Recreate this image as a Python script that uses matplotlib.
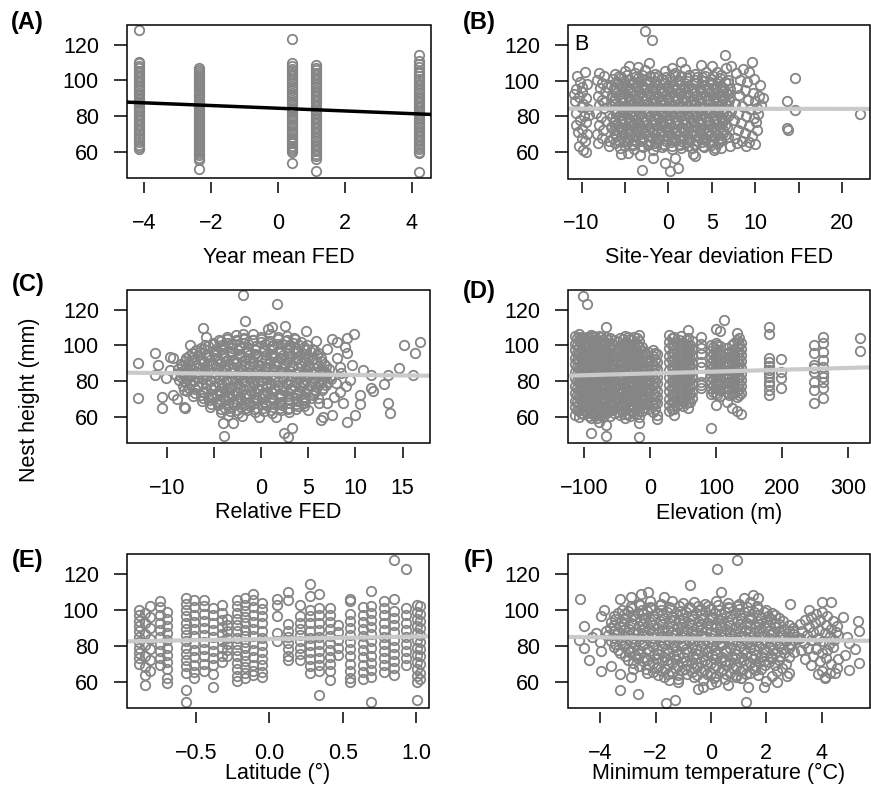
import matplotlib
matplotlib.use("Agg")
import matplotlib.pyplot as plt
from matplotlib.patches import Rectangle

plt.rcParams["font.family"] = ["Liberation Sans", "DejaVu Sans"]

# ---------------- data ----------------
# (A) nest height by year-mean FED: one column per year
year_fed_levels = [-4.15, -2.35, 0.43, 1.15, 4.22]
nest_by_year = [
    [128.2, 110.6, 109.8, 108.1, 106.9, 105.2, 104.0, 102.6, 101.3, 99.8, 98.7, 97.1, 95.9,
     94.6, 93.2, 92.0, 90.4, 89.3, 87.9, 86.5, 85.2, 84.0, 82.6, 81.1, 79.9, 78.4, 77.2,
     75.8, 74.5, 73.0, 71.8, 70.1, 68.4, 66.9, 65.2, 63.8, 62.4, 61.7],
    [106.8, 105.9, 104.7, 103.5, 102.4, 101.2, 100.1, 99.0, 97.8, 96.7, 95.5, 94.4, 93.2,
     92.1, 91.0, 89.8, 88.7, 87.5, 86.4, 85.3, 84.1, 83.0, 81.8, 80.7, 79.6, 78.4, 77.3,
     76.1, 75.0, 73.9, 72.7, 71.6, 70.4, 69.3, 68.2, 67.0, 65.9, 64.7, 63.6, 62.5, 61.3,
     60.2, 59.0, 58.1, 56.3, 55.2, 50.1],
    [123.2, 109.8, 108.2, 106.4, 105.1, 103.9, 102.3, 101.0, 99.6, 98.4, 97.0, 95.8, 94.5,
     93.1, 91.9, 90.6, 89.2, 88.0, 86.7, 85.3, 84.1, 82.8, 81.5, 80.2, 78.9, 77.6, 76.3,
     75.0, 73.7, 72.4, 71.1, 69.8, 68.5, 67.2, 65.9, 64.6, 63.3, 62.0, 60.8, 59.6, 53.4],
    [108.6, 107.2, 105.8, 104.3, 103.0, 101.5, 100.2, 98.8, 97.4, 96.1, 94.6, 93.3, 91.9,
     90.5, 89.2, 87.8, 86.4, 85.1, 83.6, 82.3, 80.9, 79.5, 78.2, 76.8, 75.4, 74.1, 72.6,
     71.3, 69.9, 68.5, 67.2, 65.8, 64.4, 63.1, 61.6, 60.3, 58.9, 57.4, 56.1, 49.2],
    [114.4, 111.2, 109.3, 107.5, 105.6, 104.2, 102.5, 101.1, 99.6, 98.2, 96.9, 95.4, 94.1,
     92.7, 91.3, 90.0, 88.6, 87.2, 85.9, 84.5, 83.1, 81.8, 80.4, 79.0, 77.7, 76.3, 74.9,
     73.6, 72.2, 70.8, 69.5, 68.1, 66.7, 65.4, 64.0, 62.6, 61.3, 59.9, 59.0, 48.3],
]

# (B) site-year deviation FED vs nest height
site_dev_pts = [
    # left columns
    (-10.5, 102.5), (-9.6, 104.8), (-10.2, 99.0), (-9.4, 98.0), (-10.7, 95.5), (-9.9, 93.5),
    (-10.3, 91.0), (-9.5, 90.0), (-10.8, 88.5), (-9.8, 87.0), (-10.1, 85.0), (-9.3, 84.0),
    (-10.6, 82.0), (-9.7, 80.0), (-10.2, 78.0), (-9.5, 76.5), (-10.7, 75.0), (-9.9, 73.0),
    (-10.4, 71.0), (-9.4, 70.0), (-10.0, 68.0), (-9.6, 66.0), (-10.3, 63.5), (-9.8, 61.0),
    (-9.5, 59.8), (-10.9, 92.5), (-10.0, 96.5), (-9.2, 80.5),
    (-8.0, 104.0), (-7.4, 102.5), (-8.2, 100.5), (-7.6, 98.5), (-7.9, 96.0), (-7.3, 93.5),
    (-8.1, 91.5), (-7.7, 89.0), (-8.0, 86.5), (-7.4, 84.5), (-8.3, 82.0), (-7.8, 79.5),
    (-7.2, 77.5), (-8.0, 75.0), (-7.5, 72.5), (-8.2, 70.0), (-7.7, 67.5), (-8.1, 65.2),
    (-7.4, 88.0), (-7.1, 96.5),
    # central cloud
    (-6.1, 103.8), (-5.0, 105.2), (-3.8, 104.1), (-2.7, 106.0), (-1.5, 103.6), (-0.4, 105.5),
    (0.7, 104.3), (1.9, 106.4), (3.1, 103.9), (4.3, 105.0), (5.6, 104.6), (6.6, 106.8),
    (-6.4, 100.9), (-5.5, 101.8), (-4.6, 100.4), (-3.5, 101.6), (-2.6, 100.2), (-1.7, 101.9),
    (-0.8, 100.7), (0.2, 101.3), (1.1, 100.1), (2.1, 101.7), (3.0, 100.5), (3.9, 101.9),
    (4.9, 100.8), (5.9, 101.5), (6.9, 100.3),
    (-6.6, 97.6), (-5.8, 98.4), (-4.9, 97.2), (-4.0, 98.8), (-3.1, 97.5), (-2.2, 98.6),
    (-1.3, 97.3), (-0.4, 98.9), (0.5, 97.4), (1.4, 98.3), (2.3, 97.1), (3.2, 98.7),
    (4.1, 97.6), (5.0, 98.2), (5.9, 97.0), (6.8, 98.5),
    (-6.2, 94.7), (-5.3, 95.6), (-4.4, 94.3), (-3.6, 95.8), (-2.7, 94.6), (-1.8, 95.4),
    (-0.9, 94.1), (0.0, 95.7), (0.9, 94.5), (1.8, 95.9), (2.7, 94.2), (3.6, 95.3),
    (4.5, 94.6), (5.4, 95.8), (6.3, 94.4), (7.1, 95.1),
    (-6.5, 91.8), (-5.6, 92.5), (-4.7, 91.2), (-3.9, 92.7), (-3.0, 91.5), (-2.1, 92.3),
    (-1.2, 91.0), (-0.3, 92.6), (0.6, 91.4), (1.5, 92.8), (2.4, 91.3), (3.3, 92.1),
    (4.2, 91.6), (5.1, 92.9), (6.0, 91.1), (6.9, 92.4),
    (-6.3, 88.6), (-5.4, 89.4), (-4.5, 88.2), (-3.7, 89.7), (-2.8, 88.5), (-1.9, 89.2),
    (-1.0, 88.0), (-0.1, 89.6), (0.8, 88.3), (1.7, 89.8), (2.6, 88.1), (3.5, 89.3),
    (4.4, 88.7), (5.3, 89.9), (6.2, 88.4), (7.0, 89.1),
    (-6.6, 85.9), (-5.7, 86.3), (-4.8, 85.1), (-4.0, 86.8), (-3.1, 85.4), (-2.2, 86.5),
    (-1.3, 85.2), (-0.4, 86.7), (0.5, 85.6), (1.4, 86.1), (2.3, 85.0), (3.2, 86.6),
    (4.1, 85.3), (5.0, 86.4), (5.9, 85.7), (6.8, 86.0),
    (-6.2, 82.8), (-5.3, 83.5), (-4.4, 82.3), (-3.6, 83.9), (-2.7, 82.6), (-1.8, 83.3),
    (-0.9, 82.1), (0.0, 83.7), (0.9, 82.4), (1.8, 83.8), (2.7, 82.2), (3.6, 83.1),
    (4.5, 82.9), (5.4, 83.6), (6.3, 82.5), (7.2, 83.0),
    (-6.5, 79.7), (-5.6, 80.4), (-4.7, 79.2), (-3.9, 80.8), (-3.0, 79.5), (-2.1, 80.2),
    (-1.2, 79.1), (-0.3, 80.6), (0.6, 79.4), (1.5, 80.9), (2.4, 79.3), (3.3, 80.1),
    (4.2, 79.8), (5.1, 80.5), (6.0, 79.0), (6.9, 80.3),
    (-6.3, 76.6), (-5.4, 77.3), (-4.5, 76.2), (-3.7, 77.8), (-2.8, 76.5), (-1.9, 77.1),
    (-1.0, 76.0), (-0.1, 77.6), (0.8, 76.3), (1.7, 77.9), (2.6, 76.1), (3.5, 77.2),
    (4.4, 76.8), (5.3, 77.5), (6.2, 76.4),
    (-6.6, 73.8), (-5.7, 74.4), (-4.8, 73.3), (-4.0, 74.9), (-3.1, 73.6), (-2.2, 74.2),
    (-1.3, 73.0), (-0.4, 74.7), (0.5, 73.5), (1.4, 74.1), (2.3, 73.2), (3.2, 74.6),
    (4.1, 73.4), (5.0, 74.3), (5.9, 73.7), (6.7, 74.0),
    (-6.2, 70.7), (-5.3, 71.4), (-4.4, 70.2), (-3.6, 71.8), (-2.7, 70.5), (-1.8, 71.2),
    (-0.9, 70.0), (0.0, 71.6), (0.9, 70.3), (1.8, 71.9), (2.7, 70.1), (3.6, 71.1),
    (4.5, 70.8), (5.4, 71.5), (6.3, 70.4),
    (-6.4, 67.8), (-5.5, 68.3), (-4.6, 67.2), (-3.8, 68.7), (-2.9, 67.5), (-2.0, 68.1),
    (-1.1, 67.0), (-0.2, 68.6), (0.7, 67.4), (1.6, 68.0), (2.5, 67.1), (3.4, 68.5),
    (4.3, 67.3), (5.2, 68.2), (6.1, 67.6), (6.9, 68.4),
    (-6.1, 64.9), (-5.1, 65.5), (-4.2, 64.3), (-3.3, 65.9), (-2.4, 64.6), (-1.5, 65.2),
    (-0.6, 64.1), (0.3, 65.7), (1.2, 64.4), (2.1, 65.3), (3.0, 64.2), (3.9, 65.6),
    (4.8, 64.8), (5.7, 65.1),
    (-5.6, 62.3), (-4.0, 61.5), (-2.9, 62.6), (-1.8, 61.2), (-0.7, 62.8), (0.4, 61.7),
    (1.5, 62.4), (2.7, 61.9), (4.1, 62.5), (5.3, 62.0),
    # central cloud, in-between rows
    (-5.7, 102.3), (-4.8, 102.9), (-3.9, 102.0), (-3.0, 103.1), (-2.1, 102.5), (-1.2, 102.8),
    (-0.3, 102.0), (0.6, 103.0), (1.5, 102.4), (2.4, 102.9), (3.3, 102.1), (4.2, 102.8),
    (5.1, 102.3), (6.0, 102.9),
    (-6.0, 99.1), (-5.1, 99.8), (-4.2, 98.9), (-3.3, 99.9), (-2.4, 99.0), (-1.5, 99.6),
    (-0.6, 98.8), (0.3, 99.7), (1.2, 99.2), (2.1, 99.8), (3.0, 98.9), (3.9, 99.5),
    (4.8, 99.0), (5.7, 99.7), (6.5, 99.2),
    (-6.3, 96.0), (-5.4, 96.7), (-4.5, 95.9), (-3.6, 96.8), (-2.7, 96.0), (-1.8, 96.5),
    (-0.9, 95.8), (0.0, 96.6), (0.9, 96.1), (1.8, 96.7), (2.7, 95.9), (3.6, 96.4),
    (4.5, 96.0), (5.4, 96.6), (6.3, 96.1),
    (-6.0, 93.0), (-5.1, 93.7), (-4.2, 92.9), (-3.3, 93.8), (-2.4, 93.0), (-1.5, 93.5),
    (-0.6, 92.8), (0.3, 93.6), (1.2, 93.1), (2.1, 93.7), (3.0, 92.9), (3.9, 93.4),
    (4.8, 93.0), (5.7, 93.6), (6.6, 93.2),
    (-6.2, 90.0), (-5.3, 90.6), (-4.4, 89.8), (-3.5, 90.7), (-2.6, 89.9), (-1.7, 90.4),
    (-0.8, 89.7), (0.1, 90.5), (1.0, 90.0), (1.9, 90.6), (2.8, 89.8), (3.7, 90.3),
    (4.6, 89.9), (5.5, 90.5), (6.4, 90.1),
    (-6.1, 87.0), (-5.2, 87.7), (-4.3, 86.9), (-3.4, 87.8), (-2.5, 87.0), (-1.6, 87.5),
    (-0.7, 86.8), (0.2, 87.6), (1.1, 87.1), (2.0, 87.7), (2.9, 86.9), (3.8, 87.4),
    (4.7, 87.0), (5.6, 87.6), (6.5, 87.2),
    (-6.3, 84.1), (-5.4, 84.7), (-4.5, 83.9), (-3.6, 84.8), (-2.7, 84.0), (-1.8, 84.5),
    (-0.9, 83.8), (0.0, 84.6), (0.9, 84.1), (1.8, 84.7), (2.7, 83.9), (3.6, 84.4),
    (4.5, 84.0), (5.4, 84.6), (6.3, 84.2),
    (-6.0, 81.0), (-5.1, 81.7), (-4.2, 80.9), (-3.3, 81.8), (-2.4, 81.0), (-1.5, 81.5),
    (-0.6, 80.8), (0.3, 81.6), (1.2, 81.1), (2.1, 81.7), (3.0, 80.9), (3.9, 81.4),
    (4.8, 81.0), (5.7, 81.6), (6.6, 81.2),
    (-6.2, 78.0), (-5.3, 78.6), (-4.4, 77.8), (-3.5, 78.7), (-2.6, 77.9), (-1.7, 78.4),
    (-0.8, 77.7), (0.1, 78.5), (1.0, 78.0), (1.9, 78.6), (2.8, 77.8), (3.7, 78.3),
    (4.6, 77.9), (5.5, 78.5), (6.4, 78.1),
    (-6.1, 75.0), (-5.2, 75.7), (-4.3, 74.9), (-3.4, 75.8), (-2.5, 75.0), (-1.6, 75.5),
    (-0.7, 74.8), (0.2, 75.6), (1.1, 75.1), (2.0, 75.7), (2.9, 74.9), (3.8, 75.4),
    (4.7, 75.0), (5.6, 75.6), (6.5, 75.2),
    (-6.3, 72.1), (-5.4, 72.7), (-4.5, 71.9), (-3.6, 72.8), (-2.7, 72.0), (-1.8, 72.5),
    (-0.9, 71.8), (0.0, 72.6), (0.9, 72.1), (1.8, 72.7), (2.7, 71.9), (3.6, 72.4),
    (4.5, 72.0), (5.4, 72.6), (6.3, 72.2),
    (-6.0, 69.1), (-5.1, 69.7), (-4.2, 68.9), (-3.3, 69.8), (-2.4, 69.0), (-1.5, 69.5),
    (-0.6, 68.8), (0.3, 69.6), (1.2, 69.1), (2.1, 69.7), (3.0, 68.9), (3.9, 69.4),
    (4.8, 69.0), (5.7, 69.6), (6.5, 69.2),
    (-5.7, 66.2), (-4.8, 66.8), (-3.9, 66.0), (-3.0, 66.9), (-2.1, 66.1), (-1.2, 66.6),
    (-0.3, 65.9), (0.6, 66.7), (1.5, 66.2), (2.4, 66.8), (3.3, 66.0), (4.2, 66.5),
    (5.1, 66.1), (6.0, 66.7),
    (-5.0, 63.4), (-4.1, 63.9), (-3.2, 63.1), (-2.3, 64.0), (-1.4, 63.2), (-0.5, 63.7),
    (0.4, 63.0), (1.3, 63.8), (2.2, 63.3), (3.1, 63.9), (4.0, 63.1), (4.9, 63.6),
    # right columns
    (7.8, 104.5), (8.6, 106.5), (9.3, 104.9), (9.6, 110.3), (8.2, 100.5), (9.0, 99.2),
    (9.9, 101.0), (10.5, 97.5), (7.9, 96.0), (8.8, 94.5), (9.7, 93.0), (10.4, 91.5),
    (10.9, 90.2), (8.1, 91.8), (9.2, 89.0), (10.0, 88.3), (10.7, 86.0), (7.7, 87.0),
    (8.5, 85.5), (9.4, 84.0), (10.2, 84.8), (8.0, 81.5), (8.9, 80.0), (9.8, 79.2),
    (10.3, 81.5), (7.6, 78.0), (8.4, 76.0), (9.3, 74.5), (10.1, 76.8), (8.0, 72.5),
    (8.8, 70.5), (9.6, 69.0), (10.2, 72.0), (7.7, 68.0), (8.5, 66.0), (9.3, 65.5),
    (10.0, 64.5), (8.9, 63.0), (7.9, 65.0),
    # scattered
    (-2.75, 127.8), (-1.9, 122.8), (14.6, 101.4), (13.7, 88.4), (14.6, 83.2), (13.7, 73.1),
    (13.8, 72.4), (22.05, 81.3), (-3.06, 49.8), (-0.45, 53.9), (0.13, 49.3), (1.1, 50.8),
    (0.7, 56.7), (-1.8, 56.7), (-4.7, 59.5), (2.8, 58.6), (3.0, 57.4), (1.5, 110.7),
    (6.5, 114.4), (5.0, 107.9), (-2.2, 109.8), (-3.5, 107.6), (0.4, 107.0), (-5.5, 58.5),
    (-3.3, 58.0), (5.2, 61.0), (-6.9, 63.0), (-6.8, 66.0), (3.7, 108.6), (-4.6, 108.2),
    (7.2, 108.0), (6.0, 62.0), (7.1, 63.5),
]

# (C) relative FED vs nest height
rel_fed_pts = [
    (-3.6, 104.6), (-2.7, 105.8), (-1.8, 104.3), (-0.9, 106.2), (0.0, 104.9), (0.9, 106.6),
    (1.8, 104.5), (2.7, 105.4), (3.5, 104.1),
    (-5.1, 101.6), (-4.3, 102.7), (-3.5, 101.2), (-2.6, 102.5), (-1.8, 101.4), (-0.9, 102.9),
    (0.0, 101.8), (0.8, 102.3), (1.7, 101.1), (2.5, 102.6), (3.4, 101.5), (4.2, 102.2),
    (-6.4, 98.8), (-5.6, 99.5), (-4.8, 98.3), (-3.9, 99.7), (-3.1, 98.6), (-2.2, 99.2),
    (-1.4, 98.1), (-0.5, 99.6), (0.3, 98.4), (1.2, 99.9), (2.0, 98.2), (2.9, 99.4),
    (3.7, 98.7), (4.6, 99.3), (5.4, 98.0),
    (-7.3, 95.7), (-6.5, 96.4), (-5.7, 95.2), (-4.8, 96.7), (-4.0, 95.5), (-3.1, 96.1),
    (-2.3, 95.0), (-1.4, 96.6), (-0.6, 95.3), (0.3, 96.8), (1.1, 95.1), (2.0, 96.3),
    (2.8, 95.8), (3.7, 96.5), (4.5, 95.4), (5.3, 96.2), (6.0, 95.6),
    (-8.0, 92.7), (-7.2, 93.4), (-6.4, 92.2), (-5.5, 93.6), (-4.7, 92.5), (-3.8, 93.1),
    (-3.0, 92.0), (-2.1, 93.5), (-1.3, 92.3), (-0.4, 93.8), (0.4, 92.1), (1.3, 93.3),
    (2.1, 92.8), (3.0, 93.5), (3.8, 92.4), (4.7, 93.2), (5.5, 92.6), (6.3, 93.0),
    (-8.5, 89.6), (-7.7, 90.3), (-6.9, 89.1), (-6.0, 90.6), (-5.2, 89.4), (-4.3, 90.1),
    (-3.5, 89.0), (-2.6, 90.5), (-1.8, 89.2), (-0.9, 90.7), (-0.1, 89.1), (0.8, 90.2),
    (1.6, 89.7), (2.5, 90.4), (3.3, 89.3), (4.2, 90.1), (5.0, 89.5), (5.9, 90.3), (6.7, 89.8),
    (-8.8, 86.6), (-8.0, 87.3), (-7.2, 86.1), (-6.3, 87.6), (-5.5, 86.4), (-4.6, 87.1),
    (-3.8, 86.0), (-2.9, 87.5), (-2.1, 86.2), (-1.2, 87.7), (-0.4, 86.1), (0.5, 87.2),
    (1.3, 86.7), (2.2, 87.4), (3.0, 86.3), (3.9, 87.1), (4.7, 86.5), (5.6, 87.3),
    (6.4, 86.8), (7.2, 87.0),
    (-9.0, 83.5), (-8.2, 84.2), (-7.4, 83.0), (-6.5, 84.5), (-5.7, 83.3), (-4.8, 84.0),
    (-4.0, 82.9), (-3.1, 84.4), (-2.3, 83.1), (-1.4, 84.6), (-0.6, 83.0), (0.3, 84.1),
    (1.1, 83.6), (2.0, 84.3), (2.8, 83.2), (3.7, 84.0), (4.5, 83.4), (5.4, 84.2),
    (6.2, 83.7), (7.0, 83.9),
    (-8.7, 80.6), (-7.9, 81.3), (-7.1, 80.1), (-6.2, 81.6), (-5.4, 80.4), (-4.5, 81.1),
    (-3.7, 80.0), (-2.8, 81.5), (-2.0, 80.2), (-1.1, 81.7), (-0.3, 80.1), (0.6, 81.2),
    (1.4, 80.7), (2.3, 81.4), (3.1, 80.3), (4.0, 81.1), (4.8, 80.5), (5.7, 81.3),
    (6.5, 80.8), (7.4, 81.0),
    (-8.3, 77.5), (-7.5, 78.2), (-6.7, 77.0), (-5.8, 78.5), (-5.0, 77.3), (-4.1, 78.0),
    (-3.3, 76.9), (-2.4, 78.4), (-1.6, 77.1), (-0.7, 78.6), (0.1, 77.0), (1.0, 78.1),
    (1.8, 77.6), (2.7, 78.3), (3.5, 77.2), (4.4, 78.0), (5.2, 77.4), (6.1, 78.2), (6.9, 77.7),
    (-7.9, 74.6), (-7.0, 75.3), (-6.2, 74.1), (-5.3, 75.6), (-4.5, 74.4), (-3.6, 75.1),
    (-2.8, 74.0), (-1.9, 75.5), (-1.1, 74.2), (-0.2, 75.7), (0.6, 74.1), (1.5, 75.2),
    (2.3, 74.7), (3.2, 75.4), (4.0, 74.3), (4.9, 75.1), (5.7, 74.5), (6.5, 75.0),
    (-7.2, 71.5), (-6.4, 72.2), (-5.6, 71.0), (-4.7, 72.5), (-3.9, 71.3), (-3.0, 72.0),
    (-2.2, 70.9), (-1.3, 72.4), (-0.5, 71.1), (0.4, 72.6), (1.2, 71.0), (2.1, 72.1),
    (2.9, 71.6), (3.8, 72.3), (4.6, 71.2), (5.5, 72.0),
    (-6.3, 68.6), (-5.5, 69.3), (-4.7, 68.1), (-3.8, 69.6), (-3.0, 68.4), (-2.1, 69.1),
    (-1.3, 68.0), (-0.4, 69.5), (0.4, 68.2), (1.3, 69.7), (2.1, 68.1), (3.0, 69.2),
    (3.8, 68.7), (4.7, 69.4),
    (-5.4, 65.6), (-4.6, 66.3), (-3.8, 65.1), (-2.9, 66.6), (-2.1, 65.4), (-1.2, 66.1),
    (-0.4, 65.0), (0.5, 66.5), (1.3, 65.2), (2.2, 66.7), (3.0, 65.1), (3.9, 66.2),
    (-4.2, 62.8), (-3.3, 63.4), (-2.4, 62.2), (-1.5, 63.6), (-0.6, 62.5), (0.3, 63.1),
    (1.2, 62.0), (2.1, 63.5), (3.0, 62.6),
    (-2.0, 60.3), (-0.2, 59.6), (1.6, 60.0), (-3.5, 60.8),
    # in-between rows
    (-4.5, 103.2), (-3.6, 103.7), (-2.7, 102.9), (-1.8, 103.8), (-0.9, 103.0), (0.0, 103.5),
    (0.9, 102.8), (1.8, 103.6), (2.7, 103.1), (3.6, 103.4),
    (-5.9, 100.2), (-5.0, 100.8), (-4.1, 100.0), (-3.2, 100.9), (-2.3, 100.1), (-1.4, 100.6),
    (-0.5, 99.9), (0.4, 100.7), (1.3, 100.2), (2.2, 100.8), (3.1, 100.0), (4.0, 100.5),
    (4.9, 100.1),
    (-6.9, 97.2), (-6.0, 97.8), (-5.1, 97.0), (-4.2, 97.9), (-3.3, 97.1), (-2.4, 97.6),
    (-1.5, 96.9), (-0.6, 97.7), (0.3, 97.2), (1.2, 97.8), (2.1, 97.0), (3.0, 97.5),
    (3.9, 97.1), (4.8, 97.7), (5.6, 97.3),
    (-7.6, 94.2), (-6.7, 94.8), (-5.8, 94.0), (-4.9, 94.9), (-4.0, 94.1), (-3.1, 94.6),
    (-2.2, 93.9), (-1.3, 94.7), (-0.4, 94.2), (0.5, 94.8), (1.4, 94.0), (2.3, 94.5),
    (3.2, 94.1), (4.1, 94.7), (5.0, 94.3), (5.9, 94.6),
    (-8.1, 91.2), (-7.2, 91.8), (-6.3, 91.0), (-5.4, 91.9), (-4.5, 91.1), (-3.6, 91.6),
    (-2.7, 90.9), (-1.8, 91.7), (-0.9, 91.2), (0.0, 91.8), (0.9, 91.0), (1.8, 91.5),
    (2.7, 91.1), (3.6, 91.7), (4.5, 91.3), (5.4, 91.6), (6.3, 91.2),
    (-8.4, 88.2), (-7.5, 88.8), (-6.6, 88.0), (-5.7, 88.9), (-4.8, 88.1), (-3.9, 88.6),
    (-3.0, 87.9), (-2.1, 88.7), (-1.2, 88.2), (-0.3, 88.8), (0.6, 88.0), (1.5, 88.5),
    (2.4, 88.1), (3.3, 88.7), (4.2, 88.3), (5.1, 88.6), (6.0, 88.2), (6.9, 88.5),
    (-8.6, 85.2), (-7.7, 85.8), (-6.8, 85.0), (-5.9, 85.9), (-5.0, 85.1), (-4.1, 85.6),
    (-3.2, 84.9), (-2.3, 85.7), (-1.4, 85.2), (-0.5, 85.8), (0.4, 85.0), (1.3, 85.5),
    (2.2, 85.1), (3.1, 85.7), (4.0, 85.3), (4.9, 85.6), (5.8, 85.2), (6.7, 85.5),
    (-8.5, 82.2), (-7.6, 82.8), (-6.7, 82.0), (-5.8, 82.9), (-4.9, 82.1), (-4.0, 82.6),
    (-3.1, 81.9), (-2.2, 82.7), (-1.3, 82.2), (-0.4, 82.8), (0.5, 82.0), (1.4, 82.5),
    (2.3, 82.1), (3.2, 82.7), (4.1, 82.3), (5.0, 82.6), (5.9, 82.2), (6.8, 82.5),
    (-8.1, 79.2), (-7.2, 79.8), (-6.3, 79.0), (-5.4, 79.9), (-4.5, 79.1), (-3.6, 79.6),
    (-2.7, 78.9), (-1.8, 79.7), (-0.9, 79.2), (0.0, 79.8), (0.9, 79.0), (1.8, 79.5),
    (2.7, 79.1), (3.6, 79.7), (4.5, 79.3), (5.4, 79.6), (6.3, 79.2), (7.0, 79.5),
    (-7.6, 76.2), (-6.7, 76.8), (-5.8, 76.0), (-4.9, 76.9), (-4.0, 76.1), (-3.1, 76.6),
    (-2.2, 75.9), (-1.3, 76.7), (-0.4, 76.2), (0.5, 76.8), (1.4, 76.0), (2.3, 76.5),
    (3.2, 76.1), (4.1, 76.7), (5.0, 76.3), (5.9, 76.6), (6.6, 76.2),
    (-7.0, 73.2), (-6.1, 73.8), (-5.2, 73.0), (-4.3, 73.9), (-3.4, 73.1), (-2.5, 73.6),
    (-1.6, 72.9), (-0.7, 73.7), (0.2, 73.2), (1.1, 73.8), (2.0, 73.0), (2.9, 73.5),
    (3.8, 73.1), (4.7, 73.7), (5.6, 73.3),
    (-6.2, 70.2), (-5.3, 70.8), (-4.4, 70.0), (-3.5, 70.9), (-2.6, 70.1), (-1.7, 70.6),
    (-0.8, 69.9), (0.1, 70.7), (1.0, 70.2), (1.9, 70.8), (2.8, 70.0), (3.7, 70.5),
    (4.6, 70.1), (5.3, 70.6),
    (-5.3, 67.2), (-4.4, 67.8), (-3.5, 67.0), (-2.6, 67.9), (-1.7, 67.1), (-0.8, 67.6),
    (0.1, 66.9), (1.0, 67.7), (1.9, 67.2), (2.8, 67.8), (3.7, 67.0), (4.5, 67.5),
    (-4.3, 64.2), (-3.4, 64.8), (-2.5, 64.0), (-1.6, 64.9), (-0.7, 64.1), (0.2, 64.6),
    (1.1, 63.9), (2.0, 64.7), (2.9, 64.2), (3.7, 64.5),
    # scattered
    (-1.94, 128.4), (1.66, 123.3), (-1.7, 114.0), (-6.2, 109.6), (1.13, 110.6), (2.5, 111.0),
    (4.77, 108.3), (0.78, 109.0), (-1.87, 106.4),
    (-13.0, 90.3), (-13.0, 70.3), (-11.2, 95.6), (-10.9, 89.0), (-11.2, 83.4), (-10.5, 71.2),
    (-10.5, 64.6), (-9.6, 93.7), (-10.1, 81.5), (-9.3, 72.1), (-8.2, 65.6), (-9.3, 92.8),
    (-8.2, 75.0), (-8.06, 64.6), (-9.7, 86.2), (-8.9, 70.0),
    (-4.0, 56.2), (-3.0, 56.2), (-3.9, 49.3), (2.4, 50.6), (2.9, 48.7), (3.3, 53.4),
    (9.8, 106.4), (9.1, 104.0), (7.5, 103.4), (8.0, 102.1), (8.9, 99.3), (9.1, 95.6),
    (7.0, 97.8), (10.8, 86.2), (11.6, 83.4), (13.5, 83.4), (14.6, 87.1), (16.1, 83.4),
    (15.1, 100.3), (16.8, 102.1), (16.3, 95.6), (13.0, 78.3), (11.9, 74.6), (11.6, 75.9),
    (10.5, 72.1), (10.5, 67.1), (13.5, 67.4), (13.7, 62.2), (10.0, 60.9), (9.1, 57.1),
    (7.5, 60.9), (6.6, 59.6), (6.3, 58.1), (5.0, 63.7), (8.4, 74.0), (9.4, 80.6),
    (9.6, 89.0), (8.4, 88.1), (7.3, 82.4), (7.7, 71.2), (8.7, 67.4), (7.0, 67.4),
    (6.1, 67.4), (8.0, 93.0), (7.9, 79.0), (9.0, 77.0), (8.5, 84.5), (6.0, 70.5),
    (4.5, 66.0), (5.8, 102.5), (-5.8, 104.5), (-7.5, 100.0),
]

# (D) nest height by elevation (m)
elev_levels = [-114, -111, -108, -105, -102, -99, -96, -93, -90, -87, -84, -81, -78, -75,
               -72, -69, -66, -63, -60, -57, -55,
               -48, -45, -41, -38, -34, -31, -27, -24, -20, -17, -13, -10, -6, -3, 4, 8, 11,
               29, 33, 36, 40, 43, 47, 50, 54, 57, 61, 64, 77,
               92, 95, 99, 102, 106, 112, 117, 120, 124, 127, 131, 134, 138,
               180, 198, 248, 261, 318]
nest_by_elev = [
    [105.5, 101.0, 97.5, 93.0, 89.5, 85.0, 81.5, 77.0, 73.5, 69.0, 65.5, 61.0],
    [104.0, 100.0, 96.0, 92.0, 88.0, 84.0, 80.0, 76.0, 72.0, 68.0, 64.0],
    [106.5, 103.0, 99.0, 95.5, 91.0, 87.5, 83.0, 79.5, 75.0, 71.5, 67.0, 63.5, 60.0],
    [105.0, 101.5, 97.5, 93.5, 89.5, 85.5, 81.5, 77.5, 73.5, 69.5, 65.5, 62.0],
    [127.8, 104.0, 100.5, 96.0, 92.5, 88.0, 84.5, 80.0, 76.5, 72.0, 68.5, 64.0, 61.5],
    [103.5, 99.5, 95.0, 91.0, 87.0, 83.0, 79.0, 75.0, 71.0, 67.0, 63.0],
    [123.3, 105.0, 101.5, 97.0, 93.5, 89.0, 85.5, 81.0, 77.5, 73.0, 69.5, 65.0, 62.0],
    [104.0, 100.0, 96.0, 92.0, 88.0, 84.0, 80.0, 76.0, 72.0, 68.0, 64.0, 60.5],
    [106.0, 102.5, 98.0, 94.5, 90.0, 86.5, 82.0, 78.5, 74.0, 70.5, 66.0, 62.5, 59.0, 50.6],
    [105.5, 101.0, 97.5, 93.0, 89.5, 85.0, 81.5, 77.0, 73.5, 69.0, 65.5, 61.5],
    [104.5, 100.0, 96.5, 92.0, 88.5, 84.0, 80.5, 76.0, 72.5, 68.0, 64.5, 60.5],
    [103.0, 99.0, 95.0, 91.0, 87.0, 83.0, 79.0, 75.0, 71.0, 67.0, 63.0, 59.5],
    [105.5, 101.5, 97.0, 93.5, 89.0, 85.5, 81.0, 77.5, 73.0, 69.5, 65.0, 61.5, 57.1],
    [104.5, 100.5, 96.5, 92.5, 88.5, 84.5, 80.5, 76.5, 72.5, 68.5, 64.5, 61.0],
    [103.0, 99.5, 95.0, 91.5, 87.0, 83.5, 79.0, 75.5, 71.0, 67.5, 63.0, 60.0],
    [102.0, 98.0, 94.0, 90.0, 86.0, 82.0, 78.0, 74.0, 70.0, 66.0, 62.5],
    [110.5, 105.0, 101.0, 97.5, 93.0, 89.5, 85.0, 81.5, 77.0, 73.5, 69.0, 65.5, 62.0, 55.3, 49.1],
    [103.0, 99.0, 95.0, 91.0, 87.0, 83.0, 79.0, 75.0, 71.0, 67.0, 63.5],
    [104.0, 100.5, 96.0, 92.5, 88.0, 84.5, 80.0, 76.5, 72.0, 68.5, 64.0, 60.5],
    [101.0, 96.0, 92.0, 87.5, 84.0, 80.0, 76.0, 72.0, 68.0, 64.0],
    [103.0, 98.0, 94.0, 89.0, 86.0, 82.0, 78.0, 74.0, 70.0, 66.0, 62.0],
    [102.0, 98.0, 94.0, 90.0, 86.0, 82.0, 78.0, 74.0, 70.0, 66.0, 62.5],
    [104.0, 100.0, 96.5, 92.0, 88.5, 84.0, 80.5, 76.0, 72.5, 68.0, 64.5, 61.0],
    [103.5, 99.5, 95.0, 91.0, 87.0, 83.0, 79.0, 75.0, 71.0, 67.0, 63.0],
    [105.5, 101.5, 97.0, 93.5, 89.0, 85.5, 81.0, 77.5, 73.0, 69.5, 65.0, 61.5, 59.5],
    [105.0, 101.0, 97.0, 93.0, 89.0, 85.0, 81.0, 77.0, 73.0, 69.0, 65.0, 61.5],
    [103.5, 99.0, 95.5, 91.0, 87.5, 83.0, 79.5, 75.0, 71.5, 67.0, 63.5, 60.5],
    [103.0, 99.0, 95.0, 91.0, 87.0, 83.0, 79.0, 75.0, 71.0, 67.0, 63.5],
    [105.0, 101.0, 97.5, 93.0, 89.5, 85.0, 81.5, 77.0, 73.5, 69.0, 65.5, 62.0],
    [104.0, 100.5, 96.5, 92.5, 88.5, 84.5, 80.5, 76.5, 72.5, 68.5, 64.5, 61.5],
    [106.0, 102.5, 99.0, 95.0, 91.0, 87.0, 83.0, 79.0, 75.0, 71.0, 67.0, 63.0, 60.0, 56.2, 48.7],
    [99.0, 95.0, 91.0, 87.0, 83.0, 79.0, 75.0, 71.0, 67.0, 63.0],
    [97.0, 93.5, 89.0, 85.5, 81.0, 77.5, 73.0, 69.5, 65.0],
    [95.0, 91.0, 87.0, 83.0, 79.0, 75.0, 71.0, 67.0],
    [96.5, 92.0, 88.5, 84.0, 80.5, 76.0, 72.5, 68.0, 64.5],
    [97.5, 94.0, 89.5, 86.0, 81.5, 78.0, 73.5, 70.0, 66.5, 62.8],
    [96.0, 92.0, 88.0, 84.0, 80.0, 76.0, 72.0, 68.5, 64.5],
    [95.0, 90.5, 87.0, 82.5, 79.0, 74.5, 71.0, 67.5, 60.9, 58.8],
    [106.0, 102.0, 98.5, 94.0, 90.5, 86.0, 82.5, 78.0, 74.5, 70.0, 66.5, 63.0],
    [104.0, 100.0, 96.0, 92.0, 88.0, 84.0, 80.0, 76.0, 72.0, 68.0, 64.5],
    [104.5, 100.5, 96.0, 92.5, 88.0, 84.5, 80.0, 76.5, 72.0, 68.5, 64.5, 60.9],
    [102.0, 98.0, 94.0, 90.0, 86.0, 82.0, 78.0, 74.0, 70.0, 66.5],
    [103.0, 99.0, 95.0, 91.0, 87.0, 83.0, 79.0, 75.0, 71.0, 67.0],
    [105.5, 101.0, 97.0, 93.0, 89.0, 85.0, 81.0, 77.0, 73.0, 69.0],
    [101.5, 97.5, 93.5, 89.5, 85.5, 81.5, 77.5, 73.5, 69.5, 66.0],
    [103.0, 99.5, 95.5, 91.5, 87.5, 83.5, 79.5, 75.5, 71.5, 67.5],
    [108.7, 104.0, 100.0, 96.0, 92.0, 88.0, 84.0, 80.0, 76.0, 72.0, 68.4, 64.6],
    [100.5, 96.5, 92.5, 88.5, 84.5, 80.5, 76.5, 72.5, 68.5],
    [102.5, 98.0, 94.5, 90.0, 86.5, 82.0, 78.5, 74.0, 70.5],
    [105.0, 101.0, 98.5, 95.0, 90.9, 88.0, 83.5, 79.5, 77.7, 75.9],
    [100.5, 97.0, 93.5, 90.0, 86.5, 83.0, 79.5, 76.0, 72.5, 53.4],
    [99.0, 95.0, 91.5, 88.0, 84.5, 81.0, 77.5, 74.0],
    [109.1, 101.5, 98.0, 94.5, 91.0, 87.5, 84.0, 80.5, 77.0, 73.5, 66.5],
    [100.0, 96.5, 93.0, 89.5, 86.0, 82.5, 79.0, 75.5, 72.0],
    [108.3, 99.5, 96.0, 92.5, 89.0, 85.5, 82.0, 78.5, 75.0, 71.5],
    [114.3],
    [98.5, 95.0, 91.5, 88.0, 84.5, 81.0, 77.5, 74.0, 68.4],
    [96.5, 93.0, 89.5, 86.0, 82.5, 79.0, 75.5, 72.0],
    [100.5, 97.0, 93.5, 90.0, 86.5, 83.0, 79.5, 76.0, 72.5, 65.0],
    [101.5, 98.0, 94.5, 91.0, 87.5, 84.0, 80.5, 77.0, 73.5],
    [106.8, 103.0, 99.0, 95.5, 92.0, 88.5, 85.0, 81.5, 78.0, 74.5, 71.0, 63.0],
    [104.0, 100.0, 96.5, 93.0, 89.5, 86.0, 82.5, 79.0, 75.5, 72.0],
    [101.5, 98.0, 94.5, 91.0, 87.5, 84.0, 80.5, 77.0, 73.5, 61.5],
    [110.6, 106.4, 92.8, 90.9, 88.2, 86.2, 84.3, 82.4, 79.6, 77.7, 75.0, 72.1],
    [92.2, 85.3, 81.9, 75.9],
    [100.3, 95.6, 89.0, 87.1, 85.3, 79.6, 74.9, 67.4],
    [105.0, 101.2, 96.5, 91.8, 88.1, 84.3, 82.4, 79.6, 75.9, 70.3],
    [104.0, 97.1],
]

# (E) nest height by latitude (deg, centred)
lat_levels = [-0.89, -0.85, -0.81, -0.745, -0.70, -0.565, -0.51, -0.445, -0.385, -0.325,
              -0.29, -0.22, -0.165, -0.108, -0.05, 0.05, 0.13, 0.21, 0.28, 0.335, 0.415,
              0.47, 0.55, 0.64, 0.69, 0.78, 0.85, 0.93, 1.005, 1.03]
nest_by_lat = [
    [100.0, 97.0, 94.0, 91.0, 88.0, 85.0, 82.0, 79.0, 76.0, 73.0, 70.0],
    [98.5, 92.5, 86.5, 80.5, 74.5, 68.0, 63.7, 58.1],
    [102.1, 96.0, 90.0, 84.0, 78.0, 72.0, 66.0],
    [104.9, 101.5, 97.0, 93.0, 89.0, 85.0, 81.0, 77.0, 73.0, 69.5],
    [99.0, 95.0, 91.0, 87.0, 83.0, 79.0, 75.0, 71.0, 67.0, 62.0, 59.0],
    [106.8, 103.5, 100.0, 96.5, 93.0, 89.5, 86.0, 82.5, 79.0, 75.5, 72.0, 68.5, 65.0, 55.3, 48.3],
    [105.5, 101.5, 97.5, 93.5, 89.5, 85.5, 81.5, 77.5, 73.5, 69.5, 65.5, 62.0],
    [105.8, 102.0, 98.0, 94.0, 90.0, 86.0, 82.0, 78.0, 74.0, 70.0, 66.0],
    [101.0, 97.0, 93.0, 89.0, 85.0, 81.0, 77.0, 73.0, 69.0, 64.0, 57.1],
    [103.0, 98.5, 94.5, 90.5, 86.5, 82.5, 78.5, 74.5, 71.0],
    [95.0, 91.5, 88.0, 84.5, 81.0, 77.5, 74.0],
    [105.5, 102.0, 98.5, 95.0, 91.5, 88.0, 84.5, 81.0, 77.5, 74.0, 70.5, 67.0, 63.0, 60.5],
    [106.8, 103.0, 99.5, 96.0, 92.5, 89.0, 85.5, 82.0, 78.5, 75.0, 71.5, 68.0, 64.5, 62.0],
    [109.0, 105.5, 101.5, 97.5, 93.5, 89.5, 85.5, 81.5, 77.5, 73.5, 69.5, 66.0, 63.5],
    [104.0, 100.5, 96.5, 92.5, 88.5, 84.5, 80.5, 76.5, 72.5, 69.0, 65.5, 62.5],
    [105.9, 103.0, 96.5, 87.1, 82.4],
    [110.2, 105.8, 92.0, 88.5, 85.0, 81.5, 78.0, 74.5, 72.0],
    [103.1, 96.5, 93.0, 89.5, 86.0, 82.5, 79.0, 75.5, 72.0],
    [114.3, 107.8, 100.3, 96.5, 92.5, 88.5, 84.5, 80.5, 76.5, 72.5, 68.5, 64.5],
    [108.7, 101.0, 97.0, 93.0, 89.0, 85.0, 81.0, 77.0, 73.0, 69.5, 66.0, 52.4],
    [101.2, 97.5, 93.5, 89.5, 85.5, 81.5, 77.5, 73.5, 70.0, 66.0, 61.0],
    [91.8, 87.5, 83.0, 79.0, 75.0],
    [105.9, 104.9, 98.0, 94.0, 90.0, 86.0, 82.0, 78.0, 74.0, 70.0, 66.0, 62.0, 60.0],
    [101.5, 97.5, 93.5, 89.5, 85.5, 81.5, 77.5, 73.5, 69.5, 65.5, 61.5],
    [110.6, 102.5, 98.5, 94.5, 90.5, 86.5, 82.5, 78.5, 74.5, 70.5, 66.5, 62.5, 48.7],
    [104.9, 101.0, 97.0, 93.0, 89.0, 85.0, 81.0, 77.0, 73.0, 69.0, 65.5],
    [127.8, 105.9, 99.5, 95.5, 91.5, 87.5, 83.5, 79.5, 75.5, 71.5, 67.5, 63.7],
    [122.8, 101.0, 97.0, 93.0, 89.0, 85.0, 81.0, 77.0, 73.0, 69.3],
    [103.0, 99.0, 95.0, 91.0, 87.0, 83.0, 79.0, 75.0, 71.0, 67.0, 63.0, 60.0, 49.6],
    [102.0, 98.0, 94.0, 90.0, 86.0, 82.0, 78.0, 74.0, 70.0, 65.0, 61.5],
]

# (F) minimum temperature (deg C) vs nest height
tmin_pts = [
    (-2.6, 103.6), (-2.2, 104.8), (-1.8, 103.3), (-1.4, 105.1), (-1.0, 103.9), (-0.6, 104.5),
    (-0.2, 103.2), (0.2, 105.3), (0.6, 104.0), (1.0, 103.5), (1.4, 104.7),
    (-3.2, 100.2), (-2.85, 101.1), (-2.5, 99.8), (-2.15, 101.4), (-1.8, 100.0), (-1.45, 100.9),
    (-1.1, 99.7), (-0.75, 101.3), (-0.4, 100.1), (-0.05, 100.8), (0.3, 99.9), (0.65, 101.2),
    (1.0, 100.4), (1.35, 99.6), (1.7, 100.7), (2.0, 99.9),
    (-3.5, 96.8), (-3.15, 97.6), (-2.8, 96.4), (-2.45, 97.9), (-2.1, 96.7), (-1.75, 97.3),
    (-1.4, 96.2), (-1.05, 97.7), (-0.7, 96.5), (-0.35, 97.4), (0.0, 96.3), (0.35, 97.8),
    (0.7, 96.6), (1.05, 97.2), (1.4, 96.1), (1.75, 97.5), (2.05, 96.7), (2.3, 97.3),
    (-3.6, 93.3), (-3.25, 94.0), (-2.9, 92.8), (-2.55, 94.3), (-2.2, 93.1), (-1.85, 93.8),
    (-1.5, 92.7), (-1.15, 94.2), (-0.8, 93.0), (-0.45, 93.9), (-0.1, 92.9), (0.25, 94.4),
    (0.6, 93.2), (0.95, 93.7), (1.3, 92.6), (1.65, 94.1), (2.0, 93.4), (2.3, 92.8), (2.6, 93.9),
    (-3.65, 89.8), (-3.3, 90.5), (-2.95, 89.3), (-2.6, 90.8), (-2.25, 89.6), (-1.9, 90.2),
    (-1.55, 89.1), (-1.2, 90.6), (-0.85, 89.4), (-0.5, 90.3), (-0.15, 89.2), (0.2, 90.7),
    (0.55, 89.5), (0.9, 90.1), (1.25, 89.0), (1.6, 90.4), (1.95, 89.7), (2.3, 90.5),
    (2.65, 89.4), (2.95, 90.0),
    (-3.7, 86.3), (-3.35, 87.0), (-3.0, 85.8), (-2.65, 87.3), (-2.3, 86.1), (-1.95, 86.7),
    (-1.6, 85.6), (-1.25, 87.1), (-0.9, 85.9), (-0.55, 86.8), (-0.2, 85.7), (0.15, 87.2),
    (0.5, 86.0), (0.85, 86.6), (1.2, 85.5), (1.55, 86.9), (1.9, 86.2), (2.25, 87.0),
    (2.6, 85.9), (3.0, 86.5),
    (-3.6, 82.8), (-3.25, 83.5), (-2.9, 82.3), (-2.55, 83.8), (-2.2, 82.6), (-1.85, 83.2),
    (-1.5, 82.1), (-1.15, 83.6), (-0.8, 82.4), (-0.45, 83.3), (-0.1, 82.2), (0.25, 83.7),
    (0.6, 82.5), (0.95, 83.1), (1.3, 82.0), (1.65, 83.4), (2.0, 82.7), (2.35, 83.5),
    (2.7, 82.4), (3.0, 83.0),
    (-3.5, 79.3), (-3.15, 80.0), (-2.8, 78.8), (-2.45, 80.3), (-2.1, 79.1), (-1.75, 79.7),
    (-1.4, 78.6), (-1.05, 80.1), (-0.7, 78.9), (-0.35, 79.8), (0.0, 78.7), (0.35, 80.2),
    (0.7, 79.0), (1.05, 79.6), (1.4, 78.5), (1.75, 79.9), (2.1, 79.2), (2.45, 80.0), (2.8, 78.9),
    (-3.3, 75.8), (-2.95, 76.5), (-2.6, 75.3), (-2.25, 76.8), (-1.9, 75.6), (-1.55, 76.2),
    (-1.2, 75.1), (-0.85, 76.6), (-0.5, 75.4), (-0.15, 76.3), (0.2, 75.2), (0.55, 76.7),
    (0.9, 75.5), (1.25, 76.1), (1.6, 75.0), (1.95, 76.4), (2.3, 75.7), (2.65, 76.2),
    (-3.0, 72.3), (-2.65, 73.0), (-2.3, 71.8), (-1.95, 73.3), (-1.6, 72.1), (-1.25, 72.7),
    (-0.9, 71.6), (-0.55, 73.1), (-0.2, 71.9), (0.15, 72.8), (0.5, 71.7), (0.85, 73.2),
    (1.2, 72.0), (1.55, 72.6), (1.9, 71.5), (2.2, 72.9), (2.45, 72.1),
    (-2.6, 68.8), (-2.25, 69.5), (-1.9, 68.3), (-1.55, 69.8), (-1.2, 68.6), (-0.85, 69.2),
    (-0.5, 68.1), (-0.15, 69.6), (0.2, 68.4), (0.55, 69.3), (0.9, 68.2), (1.25, 69.7),
    (1.6, 68.5), (1.95, 69.1),
    (-2.1, 65.3), (-1.75, 66.0), (-1.4, 64.8), (-1.05, 66.3), (-0.7, 65.1), (-0.35, 65.7),
    (0.0, 64.6), (0.35, 66.1), (0.7, 64.9), (1.05, 65.8), (1.4, 64.7), (1.6, 66.2),
    (-1.7, 62.4), (-1.2, 61.6), (-0.6, 62.7), (-0.3, 60.9), (0.1, 62.1), (0.5, 61.3), (0.9, 62.5),
    (-0.45, 55.6), (-0.3, 56.8), (-1.5, 61.0), (-1.2, 60.0), (0.0, 58.5), (0.2, 59.5),
    (0.6, 58.2), (-2.3, 64.5), (1.1, 61.8),
    # in-between rows
    (-2.9, 102.0), (-2.55, 102.6), (-2.2, 101.8), (-1.85, 102.7), (-1.5, 101.9), (-1.15, 102.4),
    (-0.8, 101.7), (-0.45, 102.5), (-0.1, 102.0), (0.25, 102.6), (0.6, 101.8), (0.95, 102.3),
    (1.3, 101.9), (1.65, 102.5),
    (-3.35, 98.6), (-3.0, 99.2), (-2.65, 98.4), (-2.3, 99.3), (-1.95, 98.5), (-1.6, 99.0),
    (-1.25, 98.3), (-0.9, 99.1), (-0.55, 98.6), (-0.2, 99.2), (0.15, 98.4), (0.5, 98.9),
    (0.85, 98.5), (1.2, 99.1), (1.55, 98.7), (1.9, 99.0), (2.2, 98.6),
    (-3.45, 95.0), (-3.1, 95.6), (-2.75, 94.8), (-2.4, 95.7), (-2.05, 94.9), (-1.7, 95.4),
    (-1.35, 94.7), (-1.0, 95.5), (-0.65, 95.0), (-0.3, 95.6), (0.05, 94.8), (0.4, 95.3),
    (0.75, 94.9), (1.1, 95.5), (1.45, 95.1), (1.8, 95.4), (2.15, 95.0), (2.45, 95.5),
    (-3.5, 91.6), (-3.15, 92.2), (-2.8, 91.4), (-2.45, 92.3), (-2.1, 91.5), (-1.75, 92.0),
    (-1.4, 91.3), (-1.05, 92.1), (-0.7, 91.6), (-0.35, 92.2), (0.0, 91.4), (0.35, 91.9),
    (0.7, 91.5), (1.05, 92.1), (1.4, 91.7), (1.75, 92.0), (2.1, 91.6), (2.45, 92.1), (2.8, 91.7),
    (-3.5, 88.0), (-3.15, 88.6), (-2.8, 87.8), (-2.45, 88.7), (-2.1, 87.9), (-1.75, 88.4),
    (-1.4, 87.7), (-1.05, 88.5), (-0.7, 88.0), (-0.35, 88.6), (0.0, 87.8), (0.35, 88.3),
    (0.7, 87.9), (1.05, 88.5), (1.4, 88.1), (1.75, 88.4), (2.1, 88.0), (2.45, 88.5), (2.8, 88.1),
    (-3.5, 84.6), (-3.15, 85.2), (-2.8, 84.4), (-2.45, 85.3), (-2.1, 84.5), (-1.75, 85.0),
    (-1.4, 84.3), (-1.05, 85.1), (-0.7, 84.6), (-0.35, 85.2), (0.0, 84.4), (0.35, 84.9),
    (0.7, 84.5), (1.05, 85.1), (1.4, 84.7), (1.75, 85.0), (2.1, 84.6), (2.45, 85.1), (2.8, 84.7),
    (-3.45, 81.0), (-3.1, 81.6), (-2.75, 80.8), (-2.4, 81.7), (-2.05, 80.9), (-1.7, 81.4),
    (-1.35, 80.7), (-1.0, 81.5), (-0.65, 81.0), (-0.3, 81.6), (0.05, 80.8), (0.4, 81.3),
    (0.75, 80.9), (1.1, 81.5), (1.45, 81.1), (1.8, 81.4), (2.15, 81.0), (2.5, 81.5), (2.85, 81.1),
    (-3.35, 77.6), (-3.0, 78.2), (-2.65, 77.4), (-2.3, 78.3), (-1.95, 77.5), (-1.6, 78.0),
    (-1.25, 77.3), (-0.9, 78.1), (-0.55, 77.6), (-0.2, 78.2), (0.15, 77.4), (0.5, 77.9),
    (0.85, 77.5), (1.2, 78.1), (1.55, 77.7), (1.9, 78.0), (2.25, 77.6), (2.6, 78.1),
    (-3.1, 74.0), (-2.75, 74.6), (-2.4, 73.8), (-2.05, 74.7), (-1.7, 73.9), (-1.35, 74.4),
    (-1.0, 73.7), (-0.65, 74.5), (-0.3, 74.0), (0.05, 74.6), (0.4, 73.8), (0.75, 74.3),
    (1.1, 73.9), (1.45, 74.5), (1.8, 74.1), (2.15, 74.4), (2.5, 74.0),
    (-2.8, 70.6), (-2.45, 71.2), (-2.1, 70.4), (-1.75, 71.3), (-1.4, 70.5), (-1.05, 71.0),
    (-0.7, 70.3), (-0.35, 71.1), (0.0, 70.6), (0.35, 71.2), (0.7, 70.4), (1.05, 70.9),
    (1.4, 70.5), (1.75, 71.1), (2.1, 70.7),
    (-2.35, 67.0), (-2.0, 67.6), (-1.65, 66.8), (-1.3, 67.7), (-0.95, 66.9), (-0.6, 67.4),
    (-0.25, 66.7), (0.1, 67.5), (0.45, 67.0), (0.8, 67.6), (1.15, 66.8), (1.5, 67.3), (1.8, 66.9),
    (-1.9, 63.6), (-1.55, 64.2), (-1.2, 63.4), (-0.85, 64.3), (-0.5, 63.5), (-0.15, 64.0),
    (0.2, 63.3), (0.55, 64.1), (0.9, 63.6), (1.25, 64.2),
    # warm cluster
    (3.2, 92.0), (3.4, 94.5), (3.6, 96.0), (3.8, 97.8), (4.0, 99.0), (4.2, 96.5), (4.4, 94.0),
    (3.3, 88.5), (3.55, 90.5), (3.75, 92.5), (3.95, 94.2), (4.15, 91.5), (4.35, 89.5),
    (4.55, 91.0), (3.2, 84.5), (3.45, 86.0), (3.7, 87.5), (3.9, 89.0), (4.1, 87.0),
    (4.3, 85.5), (4.5, 87.5), (3.35, 81.5), (3.6, 83.0), (3.85, 84.5), (4.05, 82.5),
    (4.25, 81.0), (4.45, 83.5), (3.25, 77.5), (3.5, 79.0), (3.8, 78.0), (4.0, 76.0),
    (4.2, 77.5), (4.4, 79.5), (3.4, 72.5), (3.7, 74.0), (3.95, 71.5), (4.15, 73.0),
    (4.35, 70.0), (4.6, 72.5), (3.6, 69.5), (4.0, 66.0), (4.3, 65.0), (4.55, 67.5),
    (3.85, 64.0), (4.1, 62.5),
    (2.9, 80.5), (3.0, 76.5), (2.8, 73.5), (2.7, 70.0), (3.1, 84.0), (2.95, 88.0),
    (2.55, 67.5), (2.3, 69.5), (2.4, 66.0), (2.2, 63.0), (2.0, 60.5), (1.7, 63.5),
    # scattered
    (0.94, 127.8), (0.22, 122.8), (-0.74, 114.0), (0.37, 110.2), (-4.71, 105.9), (-4.59, 90.9),
    (-4.75, 83.4), (-4.57, 78.7), (-4.39, 72.1), (-3.97, 96.5), (-4.15, 87.1), (-3.97, 65.6),
    (-3.97, 76.8), (-4.3, 85.0), (-3.8, 88.5), (-3.3, 55.3), (-2.64, 52.8), (-1.62, 47.8),
    (-1.3, 49.6), (1.27, 48.7), (2.87, 103.4), (4.0, 104.6), (4.34, 104.6), (4.76, 95.9),
    (5.3, 93.7), (5.36, 88.1), (5.36, 70.3), (5.0, 81.5), (4.82, 74.9), (5.0, 66.5),
    (4.46, 64.6), (4.1, 61.8), (2.83, 64.6), (2.75, 63.2), (1.33, 57.1), (1.09, 61.8),
    (3.55, 100.3), (4.6, 86.2), (-3.3, 105.9), (-2.52, 108.7), (-2.28, 110.2), (-2.9, 107.5),
    (-1.7, 107.2), (1.5, 108.5), (1.7, 106.5), (1.2, 107.0), (-3.6, 68.5), (-3.3, 64.0),
    (-2.9, 62.5), (-2.8, 67.0), (-3.85, 100.0), (-4.0, 82.0), (5.2, 78.0), (4.9, 85.0),
    (1.9, 57.0), (2.4, 60.0),
]

# fitted lines (intercept, slope) per panel A..F
fit_intercept = [84.4, 84.2, 83.95, 84.3, 83.8, 83.9]
fit_slope = [-0.76, -0.005, -0.053, 0.0103, 1.36, -0.2]

panel_tags = ["(A)", "(B)", "(C)", "(D)", "(E)", "(F)"]
x_titles = ["Year mean FED", "Site-Year deviation FED", "Relative FED",
            "Elevation (m)", "Latitude (°)", "Minimum temperature (°C)"]
x_ticks = [[-4, -2, 0, 2, 4], [-10, -5, 0, 5, 10, 15, 20], [-10, -5, 0, 5, 10, 15],
           [-100, 0, 100, 200, 300], [-0.5, 0.0, 0.5, 1.0], [-4, -2, 0, 2, 4]]
x_ticklabels = [["−4", "−2", "0", "2", "4"], ["−10", "", "0", "5", "10", "", "20"],
                ["−10", "", "0", "5", "10", "15"], ["−100", "0", "100", "200", "300"],
                ["−0.5", "0.0", "0.5", "1.0"], ["−4", "−2", "0", "2", "4"]]
y_ticks = [60, 80, 100, 120]

# ---------------- layout (pixels of an 871 x 788 canvas) ----------------
W, H = 871, 788
boxes = [(126.7, 25, 431, 178.3), (567.7, 25, 870, 178.5),
         (126.7, 290, 430, 443.3), (567.7, 290, 870, 443.3),
         (126.7, 554.3, 429.3, 708.3), (567.7, 554.3, 870, 708.3)]
xlims = [(-4.52, 4.58), (-11.6, 23.2), (-14.24, 17.9), (-124.7, 332.8),
         (-0.972, 1.09), (-5.17, 5.74)]
xlabel_y = [258, 258, 513, 513, 773, 773]
tag_xy = [(27, 23), (479, 23), (28, 284), (479, 291), (28, 561), (479, 561)]

PT_GRAY = "#858585"
FS = 15.5

fig = plt.figure(figsize=(W / 100, H / 100), dpi=100)
fig.patch.set_facecolor("white")


def columns(levels, groups):
    xs, ys = [], []
    for lv, g in zip(levels, groups):
        xs += [lv] * len(g)
        ys += g
    return xs, ys


series = [columns(year_fed_levels, nest_by_year),
          tuple(map(list, zip(*site_dev_pts))),
          tuple(map(list, zip(*rel_fed_pts))),
          columns(elev_levels, nest_by_elev),
          columns(lat_levels, nest_by_lat),
          tuple(map(list, zip(*tmin_pts)))]

for i, (l, t, r, b) in enumerate(boxes):
    ax = fig.add_axes([l / W, 1 - b / H, (r - l) / W, (b - t) / H])
    xs, ys = series[i]
    ax.plot(xs, ys, "o", mfc="none", mec=PT_GRAY, ms=6.8, mew=1.3, zorder=2)
    x0, x1 = xlims[i]
    line_col = "black" if i == 0 else "#cacaca"
    ax.plot([x0, x1], [fit_intercept[i] + fit_slope[i] * x0, fit_intercept[i] + fit_slope[i] * x1],
            color=line_col, lw=2.5 if i == 0 else 3.0, solid_capstyle="butt", zorder=3)
    ax.set_xlim(x0, x1)
    ax.set_ylim(45.0, 131.2)
    ax.set_xticks(x_ticks[i])
    ax.set_xticklabels(x_ticklabels[i])
    ax.set_yticks(y_ticks)
    ax.set_yticklabels([str(v) for v in y_ticks])
    for s in ax.spines.values():
        s.set_visible(False)
    ax.spines["bottom"].set_position(("outward", 2.4))
    ax.tick_params(axis="x", direction="out", length=8, width=1.1, pad=14.5, labelsize=FS)
    ax.tick_params(axis="y", direction="out", length=9.5, width=1.1, pad=10.5, labelsize=FS)
    ax.add_patch(Rectangle((0, 0), 1, 1, transform=ax.transAxes, fill=False,
                           ec="black", lw=1.1, clip_on=False, zorder=5))
    fig.text(((l + r) / 2) / W, 1 - xlabel_y[i] / H, x_titles[i], ha="center", va="center",
             fontsize=FS)
    fig.text(tag_xy[i][0] / W, 1 - tag_xy[i][1] / H, panel_tags[i], ha="center", va="center",
             fontsize=17, fontweight="bold")
    if i == 1:
        fig.text(581 / W, 1 - 45 / H, "B", ha="center", va="center", fontsize=FS)

fig.text(30 / W, 1 - 400 / H, "Nest height (mm)", rotation=90, ha="center", va="center",
         fontsize=FS)

fig.savefig("out.png", dpi=100, facecolor="white")
